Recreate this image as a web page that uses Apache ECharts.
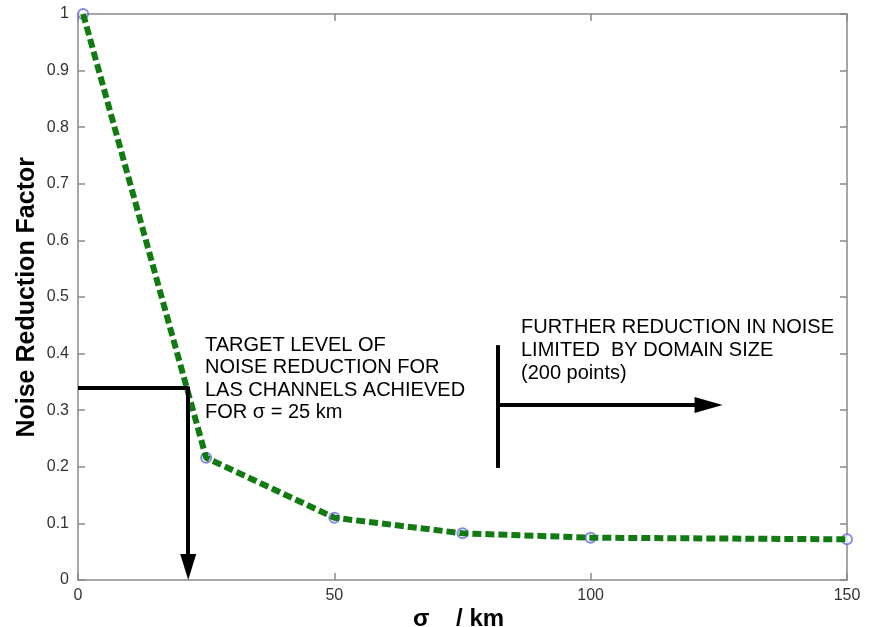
<!DOCTYPE html>
<html>
<head>
<meta charset="utf-8">
<script src="https://cdn.jsdelivr.net/npm/echarts@6/dist/echarts.min.js"></script>
<style>
html,body{margin:0;padding:0;background:#fff;}
#chart{width:874px;height:627px;}
</style>
</head>
<body>
<div id="chart"></div>
<script>
// ---- data ----
const sigmaKm = [1, 25, 50, 75, 100, 150];
const noiseReduction = [1.0, 0.216, 0.110, 0.0825, 0.0748, 0.0719];
const xTicks = [0, 50, 100, 150];
const yTicks = [0, 0.1, 0.2, 0.3, 0.4, 0.5, 0.6, 0.7, 0.8, 0.9, 1];

// annotation geometry (data coordinates)
const targetLevel = 0.339;
const targetSigma = 21.5;
const targetArrowEnd = 0.023;
const domainSigma = 81.8;
const domainBar = [0.415, 0.198];
const domainArrowY = 0.309;
const domainArrowEnd = 123.0;

const targetText = ['TARGET LEVEL OF', 'NOISE REDUCTION FOR', 'LAS CHANNELS ACHIEVED', 'FOR \u03c3 = 25 km'];
const domainText = ['FURTHER REDUCTION IN NOISE', 'LIMITED  BY DOMAIN SIZE', '(200 points)'];

const FONT = '"Liberation Sans", Arial, Helvetica, sans-serif';
const chart = echarts.init(document.getElementById('chart'), null, {renderer: 'canvas'});

const axisGray = '#8a8a8a';
function xAxisCfg(pos, showLabels) {
  return {
    type: 'value', position: pos, min: 0, max: 150, interval: 50,
    axisLine: {show: true, onZero: false, lineStyle: {color: axisGray, width: 1.5}},
    axisTick: {show: true, inside: true, length: 7, lineStyle: {color: axisGray, width: 1.5}},
    axisLabel: {show: showLabels, color: '#333', fontSize: 16, fontFamily: FONT, margin: 8},
    splitLine: {show: false}
  };
}
function yAxisCfg(pos, showLabels) {
  return {
    type: 'value', position: pos, min: 0, max: 1, interval: 0.1,
    axisLine: {show: true, onZero: false, lineStyle: {color: axisGray, width: 1.5}},
    axisTick: {show: true, inside: true, length: 7, lineStyle: {color: axisGray, width: 1.5}},
    axisLabel: {show: showLabels, color: '#333', fontSize: 16, fontFamily: FONT, margin: 9,
      formatter: v => String(+v.toFixed(1))},
    splitLine: {show: false}
  };
}

const blackLine = {color: '#000', width: 4, type: 'solid'};

chart.setOption({
  animation: false,
  backgroundColor: '#fff',
  grid: {left: 78, right: 27, top: 14, bottom: 47, containLabel: false},
  xAxis: [xAxisCfg('bottom', true), xAxisCfg('top', false)],
  yAxis: [yAxisCfg('left', true), yAxisCfg('right', false)],
  graphic: [
    {type: 'text', left: 205, top: 334, silent: true,
      style: {text: targetText.join('\n'), fontSize: 20, lineHeight: 22.5, fill: '#000', fontFamily: FONT}},
    {type: 'text', left: 521, top: 316, silent: true,
      style: {text: domainText.join('\n'), fontSize: 20, lineHeight: 23, fill: '#000', fontFamily: FONT}},
    {type: 'text', left: 15, top: 157, rotation: Math.PI / 2, silent: true,
      style: {text: 'Noise Reduction Factor', fontSize: 25, fontWeight: 'bold', fill: '#000',
        fontFamily: FONT, align: 'center', verticalAlign: 'middle'}},
    {type: 'text', left: 413, top: 607, silent: true,
      style: {text: '\u03c3    / km', fontSize: 24, fontWeight: 'bold', fill: '#000', fontFamily: FONT}}
  ],
  series: [
    {
      type: 'scatter', z: 1,
      data: sigmaKm.map((x, i) => [x, noiseReduction[i]]),
      symbol: 'emptyCircle', symbolSize: 10,
      itemStyle: {color: '#6a6ae0', borderColor: '#6a6ae0', borderWidth: 1}
    },
    {
      type: 'line', z: 3,
      data: sigmaKm.map((x, i) => [x, noiseReduction[i]]),
      showSymbol: false, symbol: 'none',
      lineStyle: {color: '#117a11', width: 6, type: [9, 4]}
    },
    {
      type: 'line', z: 4, data: [],
      markLine: {
        silent: true, animation: false,
        symbol: ['none', 'none'],
        label: {show: false},
        lineStyle: blackLine,
        data: [
          [{coord: [0, targetLevel]}, {coord: [targetSigma, targetLevel]}],
          [{coord: [targetSigma, targetLevel + 0.003]},
           {coord: [targetSigma, targetArrowEnd], symbol: 'triangle', symbolSize: [16, 26]}],
          [{coord: [domainSigma, domainBar[0]]}, {coord: [domainSigma, domainBar[1]]}],
          [{coord: [domainSigma, domainArrowY]},
           {coord: [domainArrowEnd, domainArrowY], symbol: 'triangle', symbolSize: [16, 28]}]
        ]
      }
    }
  ]
});
</script>
</body>
</html>
